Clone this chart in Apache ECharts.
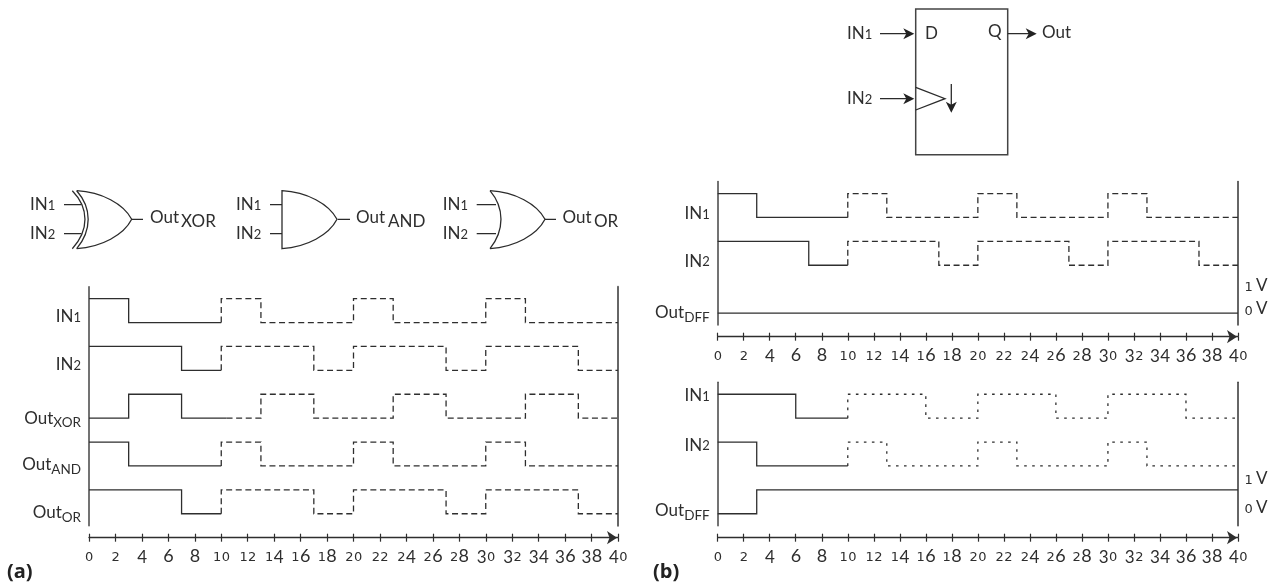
<!DOCTYPE html>
<html><head><meta charset="utf-8">
<style>html,body{margin:0;padding:0;background:#fff}#c{width:1284px;height:587px}</style>
<script src="https://cdn.jsdelivr.net/npm/echarts@6/dist/echarts.min.js"></script>
</head><body><div id="c"></div>
<script>
// ---------- data: [time, logic level] ----------
const tickMax = 40, tickStep = 2;
const in1Solid  = [[0,1],[3,1],[3,0],[10,0]];
const in1Dashed = [[10,0],[10,1],[13,1],[13,0],[20,0],[20,1],[23,1],[23,0],[30,0],[30,1],[33,1],[33,0],[40,0]];
const in2Solid  = [[0,1],[7,1],[7,0],[10,0]];
const in2Dashed = [[10,0],[10,1],[17,1],[17,0],[20,0],[20,1],[27,1],[27,0],[30,0],[30,1],[37,1],[37,0],[40,0]];
const xorSolid  = [[0,0],[3,0],[3,1],[7,1],[7,0],[10.4,0]];
const xorDashed = [[10.4,0],[13,0],[13,1],[17,1],[17,0],[23,0],[23,1],[27,1],[27,0],[33,0],[33,1],[37,1],[37,0],[40,0]];
const andSolid  = [[0,1],[3,1],[3,0],[10,0]];
const andDashed = [[10,0],[10,1],[13,1],[13,0],[20,0],[20,1],[23,1],[23,0],[30,0],[30,1],[33,1],[33,0],[40,0]];
const orSolid   = [[0,1],[7,1],[7,0],[10,0]];
const orDashed  = [[10,0],[10,1],[17,1],[17,0],[20,0],[20,1],[27,1],[27,0],[30,0],[30,1],[37,1],[37,0],[40,0]];
const dffTopOut = [[0,0],[40,0]];
const lowIn1Solid  = [[0,1],[6,1],[6,0],[10,0]];
const lowIn1Dotted = [[10,0],[10,1],[16,1],[16,0],[20,0],[20,1],[26,1],[26,0],[30,0],[30,1],[36,1],[36,0],[40,0]];
const lowIn2Solid  = [[0,1],[3,1],[3,0],[10,0]];
const lowIn2Dotted = [[10,0],[10,1],[13,1],[13,0],[20,0],[20,1],[23,1],[23,0],[30,0],[30,1],[33,1],[33,0],[40,0]];
const dffLowOut = [[0,0],[3,0],[3,1],[40,1]];

// ---------- style ----------
const INK = '#2e2e2e', FONT = 'Lato', WIDE = '"DejaVu Sans"';
const SOLID = 'solid', DASH = [6,3.6], DOT = [2.6,5.4];
const tok = (fontFamily,fontSize,pb,pl)=>({fontFamily,fontSize,color:INK,fill:INK,verticalAlign:'bottom',lineHeight:20,padding:[0,0,pb,pl]});
const R = {
  a:tok(FONT,17,4,0),
  i:tok(FONT,17,4,0),
  n:tok(FONT,13,4.8,0),
  u:tok(FONT,13.5,0.7,0),
  s:tok(WIDE,13,3.5,0.4),
  t:tok(FONT,18,2.6,0.4),
  d:tok(FONT,17,1.2,0.4)
};
function oldstyle(str){
  return String(str).split('').map(ch=>{
    const k = '012'.includes(ch) ? 's' : '68'.includes(ch) ? 't' : 'd';
    return '{'+k+'|'+ch+'}';
  }).join('');
}
const IN1 = '{i|IN}{n|1}', IN2 = '{i|IN}{n|2}';
const sub = x => '{a|Out}{u|'+x+'}';

// ---------- panels ----------
const PX = 23.9; // pixels per logic unit
const panels = [
 { left:89, right:618, top:286.7, min:-0.5, max:9.5, axisGap:12, rightW:2, rightC:'#666',
   traces:[[in1Solid,8,SOLID],[in1Dashed,8,DASH],[in2Solid,6,SOLID],[in2Dashed,6,DASH],[xorSolid,4,SOLID],[xorDashed,4,DASH],[andSolid,2,SOLID],[andDashed,2,DASH],[orSolid,0,SOLID],[orDashed,0,DASH]],
   labels:[[8.15,IN1],[6.14,IN2],[3.9,sub('XOR')],[1.95,sub('AND')],[-0.05,sub('OR')]], side:[] },
 { left:717.7, right:1238, top:181.6, min:-0.5, max:5.5, axisGap:11.7, rightW:1.5, rightC:'#333',
   traces:[[in1Solid,4,SOLID],[in1Dashed,4,DASH],[in2Solid,2,SOLID],[in2Dashed,2,DASH],[dffTopOut,0,SOLID]],
   labels:[[4.05,IN1],[2.07,IN2],[-0.1,sub('DFF')]], side:[[1.05,'{s|1} {a|V}'],[0.08,'{s|0} {a|V}']] },
 { left:717.7, right:1238, top:382.3, min:-0.5, max:5.5, axisGap:12, rightW:1.5, rightC:'#333',
   traces:[[lowIn1Solid,4,SOLID],[lowIn1Dotted,4,DOT],[lowIn2Solid,2,SOLID],[lowIn2Dotted,2,DOT],[dffLowOut,0,SOLID]],
   labels:[[4.85,IN1],[2.77,IN2],[0.02,sub('DFF')]], side:[[1.37,'{s|1} {a|V}'],[0.16,'{s|0} {a|V}']] }
];

const grid=[], xAxis=[], yAxis=[], series=[];
panels.forEach((p,i)=>{
  const h = (p.max-p.min)*PX;
  grid.push({left:p.left, top:p.top, width:p.right-p.left, height:h});
  const g2 = grid.length-1;
  const base = {type:'value', gridIndex:g2, min:0, max:tickMax, interval:tickStep, splitLine:{show:false}};
  xAxis.push({...base, position:'bottom', offset:p.axisGap,
    axisLine:{show:true, onZero:false, lineStyle:{color:INK,width:1.4}, symbol:['none','arrow'], symbolSize:[10,10], symbolOffset:[0,-1]},
    axisTick:{show:true, length:4, lineStyle:{color:INK,width:1.2}},
    axisLabel:{show:true, margin:10, hideOverlap:false, showMinLabel:true, showMaxLabel:true,
      formatter:v=>oldstyle(v), rich:R}});
  xAxis.push({...base, position:'top', offset:-(h+p.axisGap),
    axisLine:{show:false, onZero:false},
    axisTick:{show:true, length:4, lineStyle:{color:INK,width:1.2}},
    axisLabel:{show:false}});
  const yBase = {type:'value', gridIndex:g2, min:p.min, max:p.max, splitLine:{show:false}, axisTick:{show:false}};
  yAxis.push({...yBase, position:'left',
    axisLine:{show:true, onZero:false, lineStyle:{color:'#444',width:1.5}},
    axisLabel:{show:true, margin:8, align:'right', customValues:p.labels.map(l=>l[0]),
      formatter:(v)=>{const f=p.labels.find(l=>l[0]===v); return f?f[1]:'';}, rich:R}});
  yAxis.push({...yBase, position:'right',
    axisLine:{show:true, onZero:false, lineStyle:{color:p.rightC,width:p.rightW}},
    axisLabel:{show:p.side.length>0, margin:6, align:'left', customValues:p.side.map(l=>l[0]),
      formatter:(v)=>{const f=p.side.find(l=>l[0]===v); return f?f[1]:'';}, rich:R}});
  p.traces.forEach(tr=>{
    series.push({type:'line', xAxisIndex:i*2, yAxisIndex:i*2, showSymbol:false, silent:true, animation:false,
      data:tr[0].map(d=>[d[0],d[1]+tr[1]]),
      lineStyle:{color:INK,width:1.3,type:tr[2],cap:'butt',join:'miter'}});
  });
});

// ---------- schematic symbols ----------
const st = {stroke:'#2b2b2b', lineWidth:1.3, fill:'none'};
let pathId = 0;
const P = (d,style)=>{
  const name = 'sym'+(pathId++);
  echarts.graphic.registerShape(name, echarts.graphic.extendPath(d,{}));
  return {type:name, silent:true, style:Object.assign({},st,style||{})};
};
const T = (text,x,y,opt)=>({type:'text', silent:true, x, y, style:Object.assign({text, rich:R, verticalAlign:'middle', align:'left', fill:INK, font:'17px '+FONT},opt||{})});
const body = x=>`M${x} 190.7 C${x+25} 192 ${x+47} 204 ${x+55} 219.3 C${x+47} 235 ${x+25} 247 ${x} 248.7`;
const back = (x,b)=>`M${x} 190.7 C${x+b*1.33} 208 ${x+b*1.33} 230 ${x} 248.7`;
const head = (x,y)=>`M${x} ${y} L${x-11} ${y-5.5} L${x-8} ${y} L${x-11} ${y+5.5} Z`;
const graphic = [
  // XOR
  T(IN1,30,207.5),T(IN2,30,236.5),
  P('M64 204.7 H81.5 M64 233.7 H81.5 M131.7 219.3 H143'),
  P(body(76.7)),P(back(76.7,11.5)),P(back(72.3,12.7)),
  T('Out',150,218),T('XOR',181,221.5),
  // AND
  T(IN1,236,207.5),T(IN2,236,236.5),
  P('M270 204.7 H282 M270 233.7 H282 M337.7 219.3 H350'),
  P(body(282)+' Z'),
  T('Out',356,218),T('AND',388,221.5),
  // OR
  T(IN1,442.7,207.5),T(IN2,442.7,236.5),
  P('M476.7 204.7 H496 M476.7 233.7 H496 M545 219.3 H556'),
  P(body(490)),P(back(490,11)),
  T('Out',562.5,218),T('OR',594,221.5),
  // D flip-flop
  P('M915.7 9 H1007.7 V154.7 H915.7 Z',{stroke:'#444',lineWidth:1.5}),
  P('M880 33.7 H908 M880 98.7 H908 M1007.7 33.7 H1030'),
  P(head(914.3,33.7),{fill:'#222',stroke:'none'}),
  P(head(914.3,98.7),{fill:'#222',stroke:'none'}),
  P(head(1036.7,33.7),{fill:'#222',stroke:'none'}),
  P('M915.7 87.3 L945 98.7 L915.7 110'),
  P('M951.3 84 V106'),
  P('M951.3 112.7 L945.8 101.7 L951.3 104.7 L956.8 101.7 Z',{fill:'#222',stroke:'none'}),
  T(IN1,847,36),T(IN2,847,101),
  T('D',925,34),T('Q',988,32),T('Out',1042,33),
  // panel tags
  T('(a)',7,572,{font:'bold 20px "Open Sans"',fill:'#222'}),
  T('(b)',653,572,{font:'bold 20px "Open Sans"',fill:'#222'})
];

const chart = echarts.init(document.getElementById('c'),null,{renderer:'canvas'});
chart.setOption({animation:false, backgroundColor:'#fff', grid, xAxis, yAxis, series, graphic});
</script></body></html>
